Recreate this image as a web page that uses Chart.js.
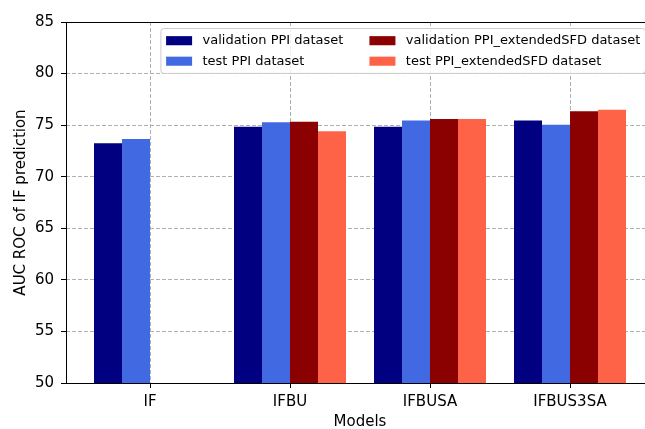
<!DOCTYPE html>
<html>
<head>
<meta charset="utf-8">
<script src="https://cdn.jsdelivr.net/npm/chart.js@4.4.1/dist/chart.umd.min.js"></script>
<style>
    html, body { margin: 0; padding: 0; background: #fff; overflow: hidden; }
    #wrap { width: 660px; height: 429px; }
</style>
</head>
<body>
<div id="wrap"><canvas id="aucChart" width="660" height="429"></canvas></div>
<script>
const models = ['IF', 'IFBU', 'IFBUSA', 'IFBUS3SA'];
const seriesNames = [
    'validation PPI dataset',
    'test PPI dataset',
    'validation PPI_extendedSFD dataset',
    'test PPI_extendedSFD dataset'
];
const seriesColors = ['#000080', '#4169e1', '#8b0000', '#ff6347'];
const validationPPI = [73.24, 74.85, 74.85, 75.45];
const testPPI = [73.65, 75.29, 75.45, 75.04];
const validationExt = [null, 75.33, 75.6, 76.35];
const testExt = [null, 74.4, 75.6, 76.5];
const yTicks = [50, 55, 60, 65, 70, 75, 80, 85];

const FONT = "'DejaVu Sans', sans-serif";

function toPoints(values) {
    return values.map((v, i) => ({ x: i, y: v }));
}

// plot frame (matplotlib spines)
const framePlugin = {
    id: 'frame',
    afterDraw(chart) {
        const { ctx, chartArea: a } = chart;
        ctx.save();
        ctx.strokeStyle = '#000';
        ctx.lineWidth = 1;
        ctx.strokeRect(a.left + 0.5, a.top + 0.5, a.right - a.left, a.bottom - a.top);
        ctx.restore();
    }
};

// two-column legend, upper right inside the axes
const legendPlugin = {
    id: 'mplLegend',
    afterDraw(chart) {
        const { ctx, chartArea: a } = chart;
        const fs = 13;
        const ds = chart.data.datasets;
        ctx.save();
        ctx.font = fs + 'px ' + FONT;
        const cols = [[ds[0], ds[1]], [ds[2], ds[3]]];
        const handleW = 2 * fs, handleH = 0.7 * fs, textPad = 0.8 * fs;
        const colGap = 2 * fs, pad = 0.4 * fs, rowH = 14, rowGap = 0.5 * fs;
        const colW = cols.map(c => handleW + textPad + Math.max(...c.map(d => ctx.measureText(d.label).width)));
        const boxW = colW[0] + colGap + colW[1] + 2 * pad;
        const boxH = 2 * pad + 2 * rowH + rowGap;
        const boxRight = a.right - 0.5 * fs - 2;
        const boxLeft = boxRight - boxW;
        const boxTop = a.top + 0.5 * fs;

        ctx.globalAlpha = 0.8;
        ctx.fillStyle = '#fff';
        ctx.beginPath();
        ctx.roundRect(boxLeft, boxTop, boxW, boxH, 3);
        ctx.fill();
        ctx.globalAlpha = 1;
        ctx.strokeStyle = '#cccccc';
        ctx.lineWidth = 1;
        ctx.stroke();

        let x = boxLeft + pad;
        cols.forEach((c, ci) => {
            c.forEach((d, ri) => {
                const cy = boxTop + pad + rowH / 2 + ri * (rowH + rowGap);
                ctx.fillStyle = d.backgroundColor;
                ctx.fillRect(x, cy - handleH / 2, handleW, handleH);
                ctx.fillStyle = '#000';
                ctx.textBaseline = 'middle';
                ctx.textAlign = 'left';
                ctx.fillText(d.label, x + handleW + textPad, cy);
            });
            x += colW[ci] + colGap;
        });
        ctx.restore();
    }
};

const seriesValues = [validationPPI, testPPI, validationExt, testExt];

new Chart(document.getElementById('aucChart'), {
    type: 'bar',
    data: {
        datasets: seriesValues.map((vals, i) => ({
            label: seriesNames[i],
            data: toPoints(vals),
            backgroundColor: seriesColors[i],
            borderWidth: 0,
            categoryPercentage: 0.8,
            barPercentage: 1.0
        }))
    },
    options: {
        responsive: false,
        animation: false,
        devicePixelRatio: 1,
        layout: { padding: { top: 22, right: 6, left: 0, bottom: 0 } },
        plugins: {
            legend: { display: false },
            tooltip: { enabled: false }
        },
        scales: {
            x: {
                type: 'linear',
                min: -0.6,
                max: 3.6,
                offset: false,
                z: 1,
                afterBuildTicks: scale => {
                    scale.ticks = models.map((m, i) => ({ value: i }));
                },
                afterFit: scale => { scale.height = 46; },
                ticks: {
                    callback: v => models[v],
                    font: { family: FONT, size: 15 },
                    color: '#000',
                    padding: 5,
                    maxRotation: 0
                },
                grid: {
                    offset: false,
                    color: '#b0b0b0',
                    lineWidth: 1,
                    tickLength: 5,
                    tickColor: '#000',
                    tickBorderDash: []
                },
                border: { display: false, dash: [4, 2] },
                title: {
                    display: true,
                    text: 'Models',
                    font: { family: FONT, size: 15 },
                    color: '#000',
                    padding: { top: 0, bottom: -2 }
                }
            },
            y: {
                min: 50,
                max: 85,
                z: 1,
                afterBuildTicks: scale => {
                    scale.ticks = yTicks.map(v => ({ value: v }));
                },
                afterFit: scale => { scale.width = 66; },
                ticks: {
                    font: { family: FONT, size: 15 },
                    color: '#000',
                    padding: 7
                },
                grid: {
                    color: '#b0b0b0',
                    lineWidth: 1,
                    tickLength: 5,
                    tickColor: '#000',
                    tickBorderDash: []
                },
                border: { display: false, dash: [4, 2] },
                title: {
                    display: true,
                    text: 'AUC ROC of IF prediction',
                    font: { family: FONT, size: 15 },
                    color: '#000',
                    padding: { top: 12, bottom: 0 }
                }
            }
        }
    },
    plugins: [framePlugin, legendPlugin]
});
</script>
</body>
</html>
